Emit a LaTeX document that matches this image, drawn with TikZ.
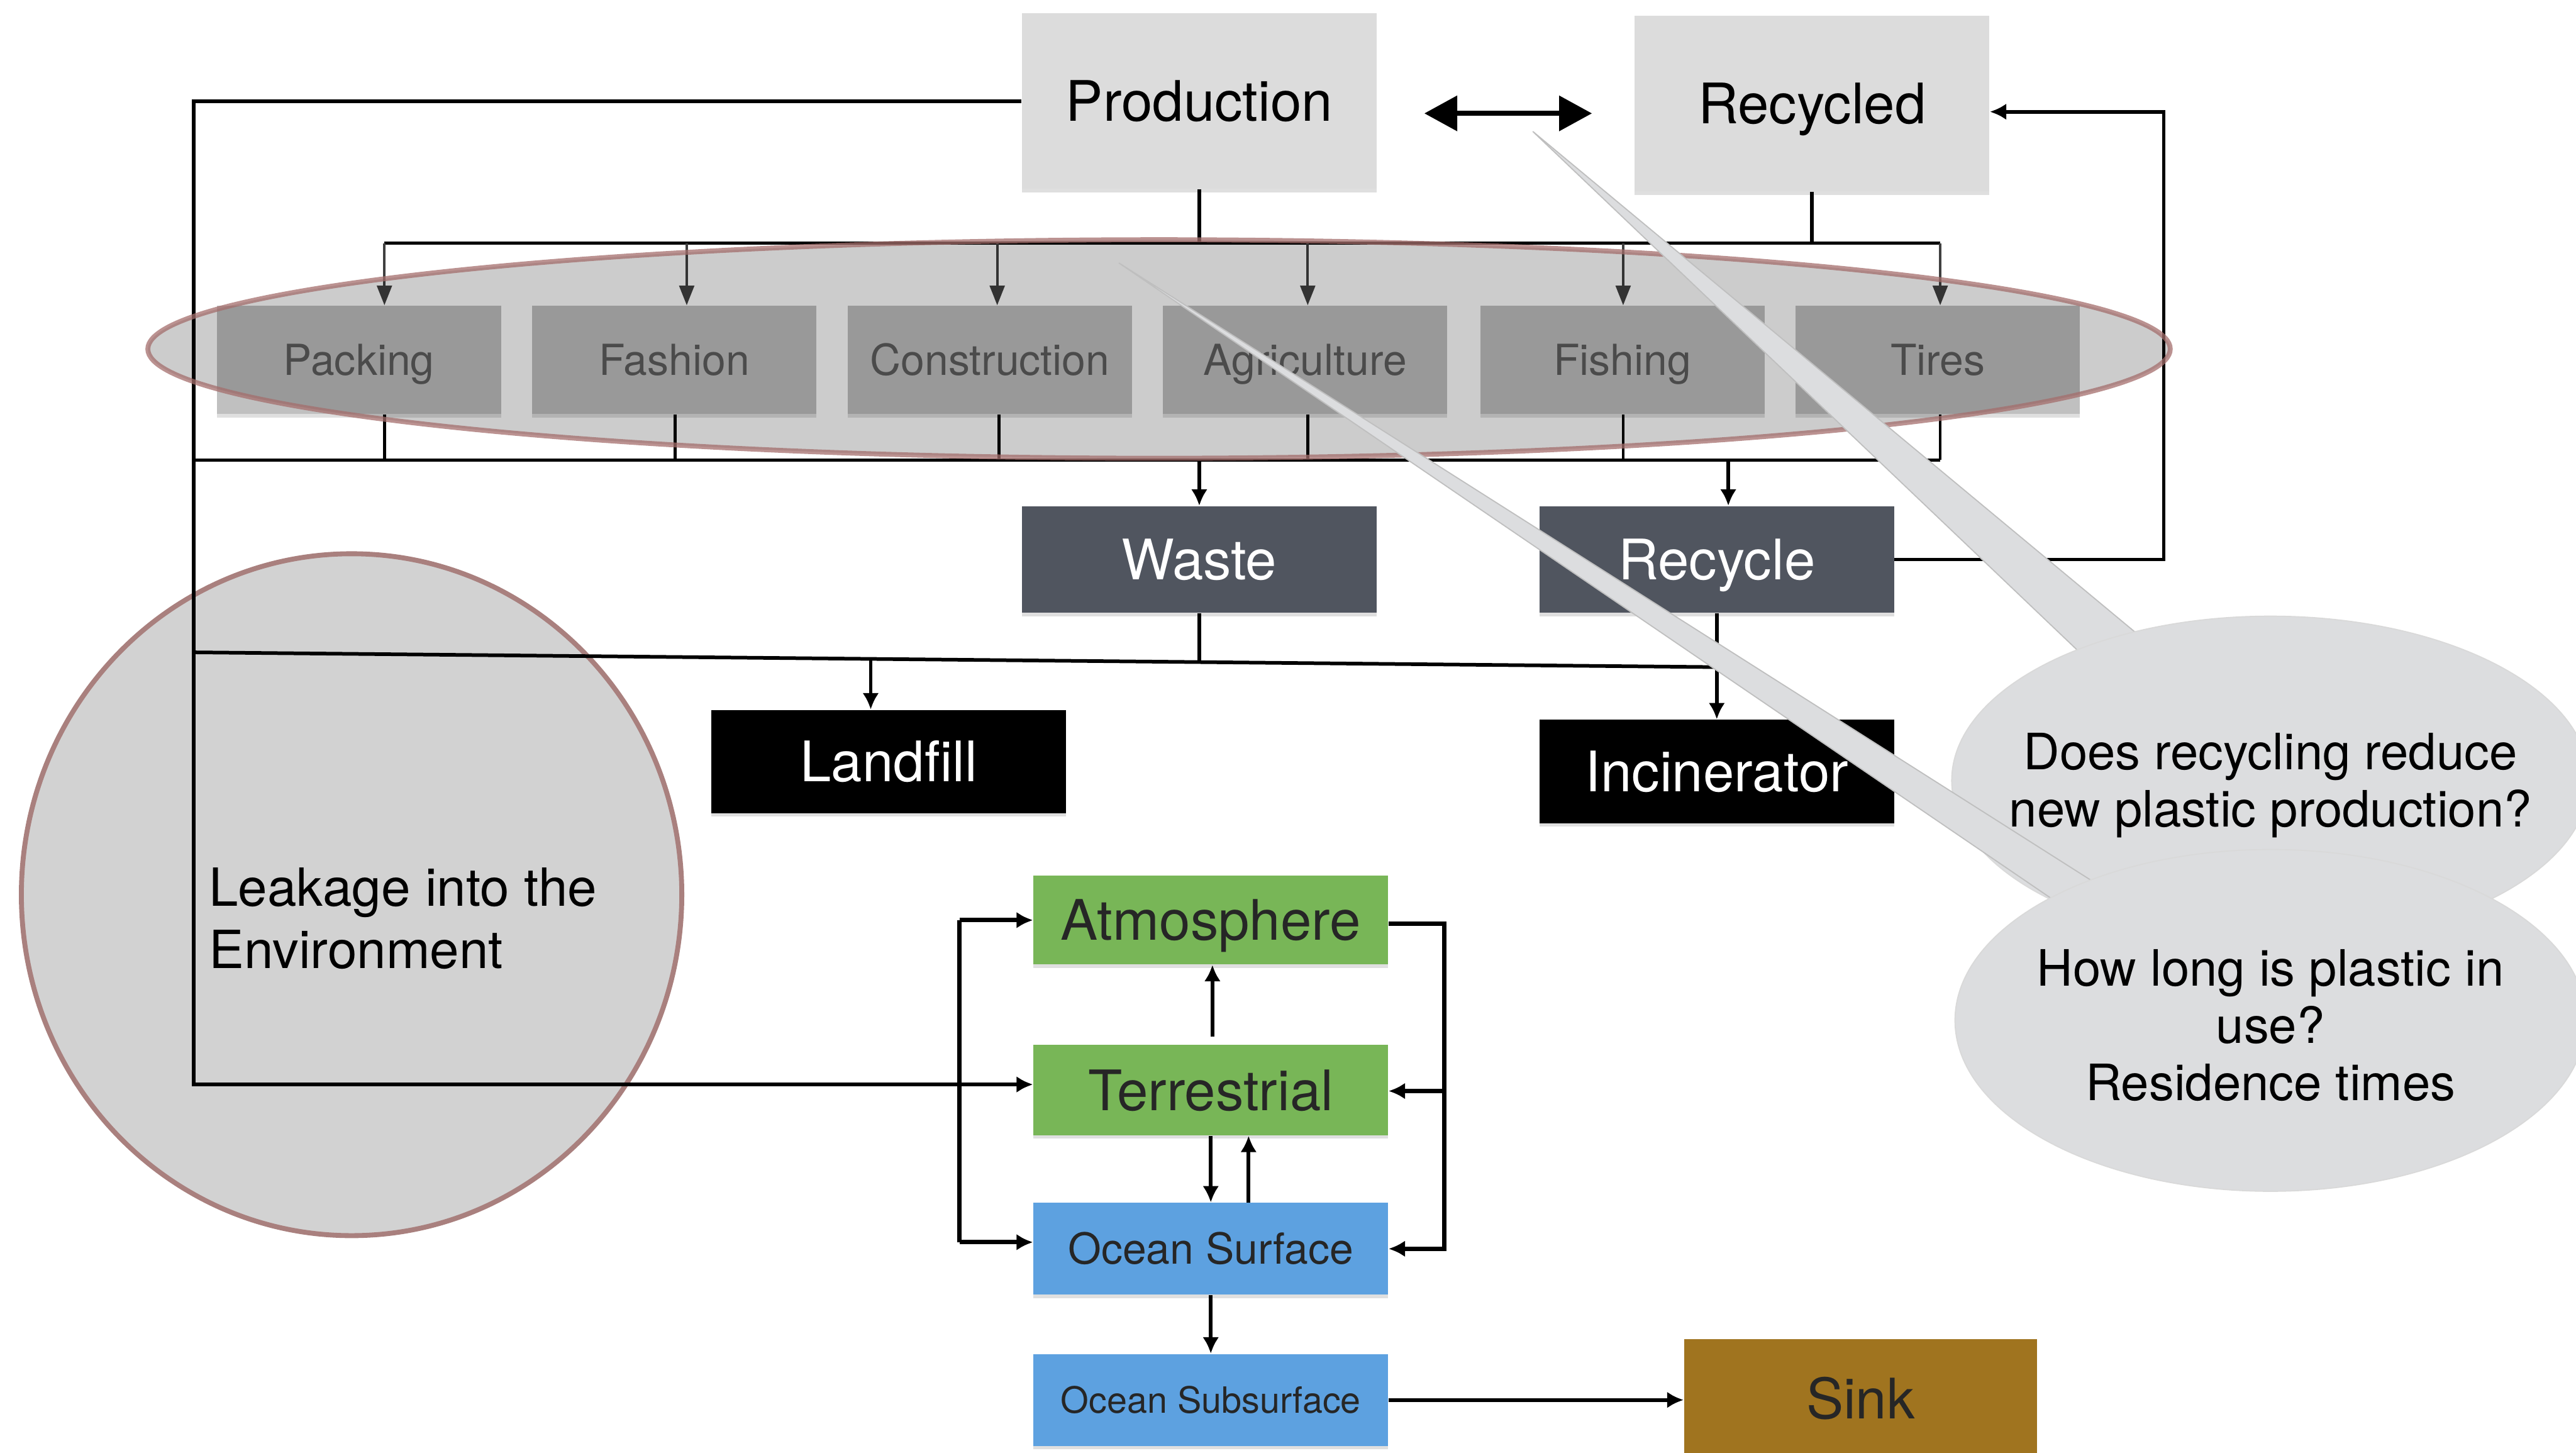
\documentclass[tikz,border=0pt]{standalone}
\usepackage{fontspec}
\setmainfont{TeX Gyre Heros}
\usetikzlibrary{arrows.meta,shadows,calc}
\definecolor{boxgray}{HTML}{DCDCDC}
\definecolor{secgray}{HTML}{C0C0C0}
\definecolor{sectext}{HTML}{5E5E5E}
\definecolor{slate}{HTML}{50555F}
\definecolor{envgreen}{HTML}{78B657}
\definecolor{envblue}{HTML}{5DA1E0}
\definecolor{sinkc}{HTML}{A0741F}
\definecolor{ellborder}{HTML}{A46E6C}
\definecolor{circfill}{HTML}{D2D2D2}
\definecolor{circborder}{HTML}{A9807E}
\definecolor{bubble}{HTML}{DCDDDF}
\definecolor{garrowc}{HTML}{404040}
\begin{document}
\begin{tikzpicture}[x=1pt,y=-1pt,
  shad/.style={drop shadow={shadow xshift=0pt,shadow yshift=-2pt,opacity=0.25}},
  basebox/.style={rectangle,inner sep=0pt,minimum width=216pt,shad},
  bigtxt/.style={font=\fontsize{34}{40}\selectfont,text height=24.5pt,text depth=0pt},
  lightbox/.style={basebox,bigtxt,fill=boxgray,text=black,minimum height=107pt},
  sector/.style={rectangle,inner sep=0pt,minimum width=173pt,minimum height=66pt,fill=secgray,text=sectext,
     font=\fontsize{26}{30}\selectfont,text height=18.7pt,text depth=0pt,shad},
  darkbox/.style={basebox,bigtxt,fill=slate,text=white,minimum height=65pt},
  blackbox/.style={basebox,bigtxt,fill=black,text=white,minimum height=63pt},
  greenbox/.style={basebox,bigtxt,fill=envgreen,text=black!85,minimum height=55pt},
  bluebox/.style={basebox,fill=envblue,text=black!85,minimum height=56pt},
  bl/.style={draw=black,line width=2.2pt},
  gl/.style={draw=garrowc,line width=1.6pt},
  barrow/.style={bl,-{Latex[length=10pt,width=10pt]}},
  garrow/.style={gl,-{Triangle[length=12pt,width=9pt]}},
  tail/.style={fill=bubble,draw=black!25,line width=0.7pt},
  bubbleell/.style={fill=bubble,draw=black!15,line width=0.7pt},
  qtext/.style={align=center,font=\fontsize{30.5}{35}\selectfont,text=black}
]
\useasboundingbox (0,0) rectangle (1568,884);

% ---------- top boxes ----------
\node[lightbox] (prod) at (730,61.5) {Production};
\node[lightbox] (recd) at (1103,63) {Recycled};

% ---------- sector boxes ----------
\node[sector] (pack) at (218.5,219) {Packing};
\node[sector] (fash) at (410.5,219) {Fashion};
\node[sector] (cons) at (602.5,219) {Construction};
\node[sector] (agri) at (794.5,219) {Agriculture};
\node[sector] (fish) at (987.5,219) {Fishing};
\node[sector] (tire) at (1179.5,219) {Tires};

% ---------- waste handling ----------
\node[darkbox] (waste) at (730,340.5) {Waste};
\node[darkbox] (recy) at (1045,340.5) {Recycle};
\node[blackbox] (land) at (541,463.5) {Landfill};
\node[blackbox] (inc) at (1045,469.5) {Incinerator};

% ---------- environment ----------
\node[greenbox,minimum height=54pt] (atm) at (737,560) {Atmosphere};
\node[greenbox] (terr) at (737,663.5) {Terrestrial};
\node[bluebox,font=\fontsize{26}{30}\selectfont,text height=18.7pt,text depth=0pt] (ocs) at (737,760) {Ocean Surface};
\node[bluebox,font=\fontsize{22}{26}\selectfont,text height=15.8pt,text depth=0pt] (ocsub) at (737,852) {Ocean Subsurface};
\node[basebox,bigtxt,fill=sinkc,text=black!85,minimum width=215pt,minimum height=72pt] (sink) at (1132.5,851) {Sink};

% ---------- leakage circle ----------
\draw[fill=circfill,draw=circborder,line width=3pt] (214,544.5) ellipse [x radius=201,y radius=207.5];
\node[anchor=west,align=left,inner sep=0pt,font=\fontsize{32}{38}\selectfont,text=black] (leak) at (127,559) {Leakage into the\\Environment};

% ---------- coordinates ----------
\coordinate (lbot) at (118,660);
\coordinate (tb1) at (234,148);
\coordinate (tb2) at (418,148);
\coordinate (tb3) at (607,148);
\coordinate (tb4) at (796,148);
\coordinate (tb5) at (988,148);
\coordinate (tb6) at (1181,148);
\coordinate (bb0) at (118,280);
\coordinate (bb1) at (234,280);
\coordinate (bb2) at (411,280);
\coordinate (bb3) at (608,280);
\coordinate (bb4) at (796,280);
\coordinate (bb5) at (988,280);
\coordinate (bb6) at (1181,280);
\coordinate (bw) at (730,280);
\coordinate (br) at (1052,280);
\coordinate (rr) at (1317,68);
\coordinate (sl1) at (118,397);
\coordinate (sl2) at (1045,406);
\coordinate (ws) at (730,403);
\coordinate (lf) at (530,401);
\coordinate (el1) at (584,560);
\coordinate (el2) at (584,756);
\coordinate (er1) at (879,562);
\coordinate (er2) at (879,760);
\coordinate (er3) at (879,664);
\coordinate (ta) at (738,631);
\coordinate (ot) at (760,700);
\coordinate (da1) at (867,69);
\coordinate (da2) at (969,69);

% ---------- production / recycled feeds ----------
\draw[barrow] (prod.west) -- (prod.west -| lbot) -- (lbot) -- (lbot -| terr.west);
\draw[bl] (tb1) -- (tb6);
\draw[bl] (prod.south) -- (prod.south |- tb1);
\draw[bl] (recd.south) -- (recd.south |- tb1);
\draw[garrow] (tb1) -- (tb1 |- pack.north);
\draw[garrow] (tb2) -- (tb2 |- fash.north);
\draw[garrow] (tb3) -- (tb3 |- cons.north);
\draw[garrow] (tb4) -- (tb4 |- agri.north);
\draw[garrow] (tb5) -- (tb5 |- fish.north);
\draw[garrow] (tb6) -- (tb6 |- tire.north);
\draw[line width=3pt,{Triangle[length=20pt,width=21pt]}-{Triangle[length=20pt,width=21pt]}] (da1) -- (da2);

% ---------- sector outputs ----------
\draw[bl] (bb0) -- (bb6);
\draw[bl,line width=1.8pt] (bb1 |- pack.south) -- (bb1);
\draw[bl,line width=1.8pt] (bb2 |- fash.south) -- (bb2);
\draw[bl,line width=1.8pt] (bb3 |- cons.south) -- (bb3);
\draw[bl,line width=1.8pt] (bb4 |- agri.south) -- (bb4);
\draw[bl,line width=1.8pt] (bb5 |- fish.south) -- (bb5);
\draw[bl,line width=1.8pt] (bb6 |- tire.south) -- (bb6);
\draw[barrow] (bw) -- (bw |- waste.north);
\draw[barrow] (br) -- (br |- recy.north);

% ---------- recycling loop ----------
\draw[barrow] (recy.east) -- (recy.east -| rr) -- (rr) -- (rr -| recd.east);

% ---------- disposal ----------
\draw[bl] (sl1) -- (sl2);
\draw[bl] (waste.south) -- (ws);
\draw[barrow] (lf) -- (lf |- land.north);
\draw[barrow] (recy.south) -- (inc.north);

% ---------- environment flows ----------
\draw[bl,line width=2.6pt] (el1) -- (el2);
\draw[barrow,line width=2.6pt] (el1) -- (el1 -| atm.west);
\draw[barrow,line width=2.6pt] (el2) -- (el2 -| ocs.west);
\draw[barrow,line width=2.6pt] (er1 -| atm.east) -- (er1) -- (er2) -- (er2 -| ocs.east);
\draw[barrow,line width=2.6pt] (er3) -- (er3 -| terr.east);
\draw[barrow] (ta) -- (ta |- atm.south);
\draw[barrow] (terr.south) -- (ocs.north);
\draw[barrow] (ot |- ocs.north) -- (ot |- terr.south);
\draw[barrow] (ocs.south) -- (ocsub.north);
\draw[barrow] (ocsub.east) -- (ocsub.east -| sink.west);

% ---------- sector highlight ellipse ----------
\draw[fill=black,fill opacity=0.2,draw=ellborder,draw opacity=0.75,line width=3pt] (705.5,212.4) ellipse [x radius=615.5,y radius=66.5];

% ---------- callouts ----------
\draw[tail] (933,80) -- (1290,420) -- (1312,395) -- cycle;
\draw[bubbleell] (1382,475) ellipse [x radius=194,y radius=100];
\node[qtext] (q1) at (1382,478) {Does recycling reduce\\new plastic production?};
\draw[tail] (681,160) -- (1300,553) -- (1268,560) -- cycle;
\draw[bubbleell] (1382,621) ellipse [x radius=192,y radius=104];
\node[qtext] (q2) at (1382,624) {How long is plastic in\\use?\\Residence times};
\end{tikzpicture}
\end{document}
